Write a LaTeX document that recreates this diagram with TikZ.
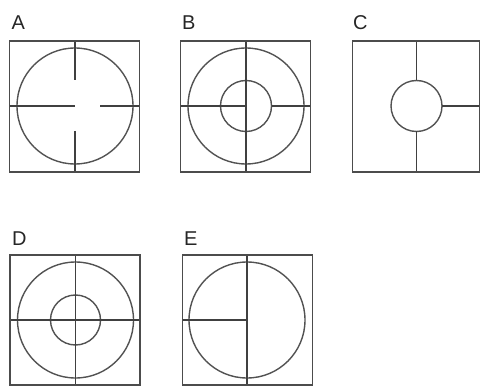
\documentclass[tikz,border=0pt]{standalone}
\usepackage{fontspec}
\setmainfont{Liberation Sans}
\begin{document}
\begin{tikzpicture}[x=1pt,y=-1pt,
  frame/.style={draw=black!70,line width=1.8pt},
  ring/.style={draw=black!68,line width=1.4pt},
  stroke/.style={draw=black!75,line width=1.3pt},
  lab/.style={anchor=base west,inner sep=0pt,font=\fontsize{20}{20}\selectfont,text=black!85}]
\useasboundingbox (0,0) rectangle (481,387);
% labels
\node[lab] (la) at (11.5,29.5) {A};
\node[lab] (lb) at (182,29.5) {B};
\node[lab] (lc) at (353,29.5) {C};
\node[lab] (ld) at (12,245) {D};
\node[lab] (le) at (184,245) {E};
% A
\draw[ring] (75,106) circle (58);
\draw[stroke] (75,41) -- (75,80) (75,131) -- (75,172) (9.5,106) -- (75,106) (100,106) -- (139.5,106);
\draw[frame] (9.5,41) rectangle (139.5,172);
% B
\draw[ring] (246,106) circle (58);
\draw[ring] (246,106) circle (25.5);
\draw[stroke] (246,41) -- (246,172) (180.5,106) -- (246,106) (271.5,106) -- (310.5,106);
\draw[frame] (180.5,41) rectangle (310.5,172);
% C
\draw[ring] (416.5,106) circle (25.5);
\draw[stroke] (416.5,41) -- (416.5,80.5) (416.5,131.5) -- (416.5,172) (442,106) -- (479.5,106);
\draw[frame] (352.5,41) rectangle (479.5,172);
% D
\draw[ring] (75.5,320) circle (58);
\draw[ring] (75.5,320) circle (25);
\draw[stroke] (75.5,255) -- (75.5,385) (10,320) -- (140,320);
\draw[frame] (10,255) rectangle (140,385);
% E
\draw[ring] (247,320) circle (58);
\draw[stroke] (247,255) -- (247,385) (182.5,320) -- (247,320);
\draw[frame] (182.5,255) rectangle (312.5,385);
\end{tikzpicture}
\end{document}
